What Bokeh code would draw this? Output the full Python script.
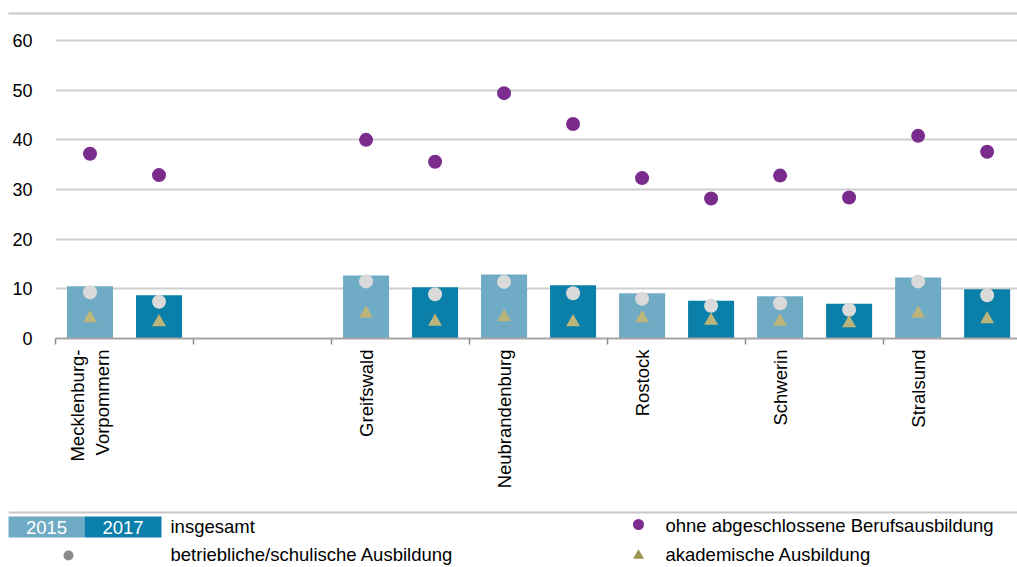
import math
from bokeh.plotting import figure
from bokeh.models import Range1d, FixedTicker, ColumnDataSource
from bokeh.layouts import column
from bokeh.core.properties import value
from bokeh.embed import file_html
from bokeh.resources import INLINE

# ---- data ----
labels = ["Mecklenburg-\nVorpommern", "Greifswald", "Neubrandenburg", "Rostock", "Schwerin", "Stralsund"]
slots = [0, 2, 3, 4, 5, 6]          # slot 1 stays empty
years = ["2015", "2017"]
insgesamt_2015 = [10.5, 12.7, 12.9, 9.1, 8.5, 12.3]
insgesamt_2017 = [8.7, 10.3, 10.7, 7.6, 7.0, 9.9]
betrieblich_2015 = [9.3, 11.5, 11.4, 8.0, 7.1, 11.5]
betrieblich_2017 = [7.4, 8.9, 9.1, 6.6, 5.8, 8.7]
akademisch_2015 = [4.1, 5.0, 4.3, 4.1, 3.4, 5.0]
akademisch_2017 = [3.3, 3.4, 3.3, 3.6, 3.1, 3.9]
ohne_2015 = [37.2, 40.0, 49.4, 32.3, 32.8, 40.8]
ohne_2017 = [32.9, 35.6, 43.2, 28.2, 28.4, 37.6]
y_ticks = [0, 10, 20, 30, 40, 50, 60]

legend_texts = ["insgesamt", "betriebliche/schulische Ausbildung",
                "ohne abgeschlossene Berufsausbildung", "akademische Ausbildung"]

FONT = "Liberation Sans"
C2015 = "#6fabc5"
C2017 = "#0a7fa9"
PURPLE = "#7b2d8e"
GREY = "#dadada"
OLIVE = "#bbb57b"
W = 1017

# ---- top rule ----
top = figure(width=W, height=18, x_range=Range1d(0, 1017), y_range=Range1d(18, 0),
             output_backend="svg", toolbar_location=None, min_border=0,
             x_axis_location=None, y_axis_location=None)
top.frame_align = False
top.grid.visible = False
top.outline_line_color = None
top.line([8, 1017], [13, 13], line_color="#c8c8c8", line_width=2)

# ---- main chart ----
p = figure(width=W, height=487, x_range=Range1d(0, 6.97), y_range=Range1d(0, 64.03),
           output_backend="svg", toolbar_location=None,
           min_border_left=55, min_border_right=0, min_border_top=2, min_border_bottom=167)
p.frame_align = False
p.outline_line_color = None
p.xgrid.visible = False
p.ygrid.grid_line_color = "#cfcfcf"
p.ygrid.grid_line_width = 2

x15 = [s + 0.25 for s in slots]
x17 = [s + 0.75 for s in slots]
src = ColumnDataSource(dict(x15=x15, x17=x17, i15=insgesamt_2015, i17=insgesamt_2017,
                            b15=betrieblich_2015, b17=betrieblich_2017,
                            a15=akademisch_2015, a17=akademisch_2017,
                            o15=ohne_2015, o17=ohne_2017))
bw = 46 / 138
p.vbar(x="x15", top="i15", width=bw, source=src, fill_color=C2015, line_color=None)
p.vbar(x="x17", top="i17", width=bw, source=src, fill_color=C2017, line_color=None)
for xc, yc in (("x15", "b15"), ("x17", "b17")):
    p.scatter(x=xc, y=yc, source=src, marker="circle", size=14, fill_color=GREY, line_color=None)
for xc, yc in (("x15", "a15"), ("x17", "a17")):
    p.scatter(x=xc, y=yc, source=src, marker="triangle", size=14, fill_color=OLIVE, line_color=None)
for xc, yc in (("x15", "o15"), ("x17", "o17")):
    p.scatter(x=xc, y=yc, source=src, marker="circle", size=14, fill_color=PURPLE, line_color=None)

# y axis
p.yaxis.ticker = FixedTicker(ticks=y_ticks)
p.yaxis.axis_line_color = None
p.yaxis.major_tick_line_color = None
p.yaxis.minor_tick_line_color = None
p.yaxis.major_label_standoff = 17
p.yaxis.major_label_text_font = FONT
p.yaxis.major_label_text_font_size = "18px"
p.yaxis.major_label_text_color = "#000000"

# x axis
p.xaxis.ticker = FixedTicker(ticks=x15, minor_ticks=list(range(0, 8)))
p.xaxis.major_label_overrides = {x: lab for x, lab in zip(x15, labels)}
p.xaxis.major_label_orientation = math.pi / 2
p.xaxis.major_tick_line_color = None
p.xaxis.major_tick_out = 0
p.xaxis.major_tick_in = 0
p.xaxis.minor_tick_out = 6
p.xaxis.minor_tick_in = 0
p.xaxis.minor_tick_line_color = "#8c8c8c"
p.xaxis.minor_tick_line_width = 1.5
p.xaxis.axis_line_color = "#a6a6a6"
p.xaxis.axis_line_width = 2
p.xaxis.major_label_standoff = 5
p.xaxis.major_label_text_font = FONT
p.xaxis.major_label_text_font_size = "18.5px"
p.xaxis.major_label_text_color = "#000000"

# ---- legend ----
lg = figure(width=W, height=62, x_range=Range1d(0, 1017), y_range=Range1d(567, 505),
            output_backend="svg", toolbar_location=None, min_border=0,
            x_axis_location=None, y_axis_location=None)
lg.frame_align = False
lg.grid.visible = False
lg.outline_line_color = None
lg.line([8, 1017], [512, 512], line_color="#c8c8c8", line_width=2)
lg.rect(x=[46, 122.5], y=[526.5, 526.5], width=[76, 77], height=21,
        fill_color=[C2015, C2017], line_color=None)
lg.text(x=[46, 122.5], y=[527, 527], text=years, text_align="center", text_baseline="middle",
        text_color="white", text_font=value(FONT), text_font_size="18.5px")
lg.scatter(x=[68], y=[555], marker="circle", size=10, fill_color="#8a8a8a", line_color=None)
lg.scatter(x=[638], y=[524], marker="circle", size=11, fill_color=PURPLE, line_color=None)
lg.scatter(x=[638], y=[555], marker="triangle", size=11, fill_color="#9b9552", line_color=None)
lg.text(x=[170, 170, 665, 665], y=[526, 554, 525, 554], text=legend_texts,
        text_align="left", text_baseline="middle", text_color="#000000",
        text_font=value(FONT), text_font_size="18.5px")

layout = column(top, p, lg, spacing=0)
open("out.html", "w").write(file_html(layout, INLINE))
